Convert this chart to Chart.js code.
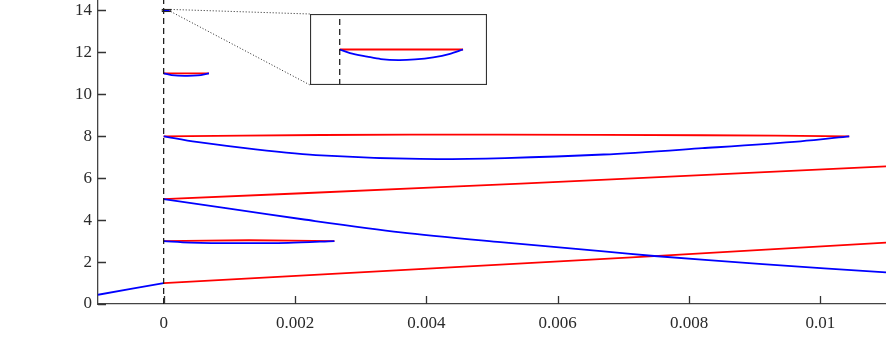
<!DOCTYPE html>
<html>
<head>
<meta charset="utf-8">
<script src="https://cdn.jsdelivr.net/npm/chart.js@4/dist/chart.umd.min.js"></script>
<style>
  html, body { margin: 0; padding: 0; background: #fff; }
  #wrap { position: relative; width: 886px; height: 354px; }
  #main { position: absolute; left: 0; top: 0; }
  #inset { position: absolute; left: 310px; top: 14px; }
</style>
</head>
<body>
<div id="wrap">
  <canvas id="main" width="886" height="354"></canvas>
  <canvas id="inset" width="177" height="71"></canvas>
</div>
<script>
// ---------- data ----------
const xTickValues = [0, 0.002, 0.004, 0.006, 0.008, 0.01];
const xTickLabels = ['0', '0.002', '0.004', '0.006', '0.008', '0.01'];
const yTickValues = [0, 2, 4, 6, 8, 10, 12, 14];
const yTickLabels = ['0', '2', '4', '6', '8', '10', '12', '14'];

// lowest branch: blue before the impulse, red after it
const preBlueX = [-0.001, 0];
const preBlueY = [0.44, 1.0];
const lowRedX = [0, 0.00361, 0.00747, 0.011];
const lowRedY = [1.0, 1.62, 2.28, 2.93];

// branch starting at 5
const midBlueX = [0, 0.001, 0.00214, 0.00361, 0.00513, 0.00666, 0.00747, 0.00912, 0.011];
const midBlueY = [5.0, 4.55, 4.03, 3.42, 2.95, 2.52, 2.29, 1.90, 1.51];
const midRedX = [0, 0.00422, 0.00666, 0.011];
const midRedY = [5.0, 5.57, 5.92, 6.56];

// loop at 8
const loop8BlueX = [0, 0.0005, 0.0014, 0.0024, 0.0039, 0.0052, 0.0067, 0.0082, 0.0097, 0.01044];
const loop8BlueY = [8.0, 7.73, 7.38, 7.09, 6.92, 6.96, 7.13, 7.43, 7.76, 8.0];
const loop8RedX = [0, 0.0024, 0.0051, 0.0082, 0.01044];
const loop8RedY = [8.0, 8.06, 8.08, 8.05, 8.0];

// loop at 3
const loop3BlueX = [0, 0.0004, 0.0011, 0.0019, 0.0026];
const loop3BlueY = [3.0, 2.93, 2.90, 2.92, 3.0];
const loop3RedX = [0, 0.0013, 0.0026];
const loop3RedY = [3.0, 3.04, 3.0];

// loop at 11
const loop11BlueX = [0, 0.00012, 0.00032, 0.00052, 0.00069];
const loop11BlueY = [11.0, 10.92, 10.88, 10.90, 11.0];
const loop11RedX = [0, 0.00069];
const loop11RedY = [11.0, 11.0];

// tiny loop at 14 (shown magnified in the inset)
const loop14BlueX = [0, 0.0000075, 0.00002, 0.00003, 0.0000428, 0.000055, 0.0000683, 0.0000805, 0.00009];
const loop14BlueY = [14.0, 13.9949, 13.9900, 13.9865, 13.9850, 13.9860, 13.9890, 13.9939, 14.0];
const loop14RedX = [0, 0.00009];
const loop14RedY = [14.0, 14.0];

// axis / zoom ranges
const xRange = [-0.001, 0.011];
const yRange = [0, 14.5];
const insetXRange = [-0.0000217, 0.0001075];
const insetYRange = [13.95, 14.05];

// ---------- helpers ----------
const zip = (xs, ys) => xs.map((x, i) => ({ x: x, y: ys[i] }));
const BLUE = '#0000ff', RED = '#ff0000';
const line = (xs, ys, color) => ({
  data: zip(xs, ys), borderColor: color, borderWidth: 1.8, pointRadius: 0,
  showLine: true, fill: false, tension: 0.3
});
const dashed = (y0, y1) => ({
  data: [{ x: 0, y: y0 }, { x: 0, y: y1 }], borderColor: '#111', borderWidth: 1.2,
  borderDash: [6, 4], pointRadius: 0, showLine: true, fill: false
});

Chart.defaults.font.family = "'Liberation Serif', 'DejaVu Serif', serif";
Chart.defaults.font.size = 17;
Chart.defaults.color = '#2a2a2a';
Chart.defaults.animation = false;

const INSET_BOX = { left: 310, top: 14, right: 487, bottom: 85 };

const mainPlugin = {
  id: 'mainDeco',
  afterDatasetsDraw(chart) {
    const ctx = chart.ctx, xs = chart.scales.x, ys = chart.scales.y;
    ctx.save();
    // inward ticks
    ctx.strokeStyle = '#333';
    ctx.lineWidth = 1.3;
    ctx.beginPath();
    xTickValues.forEach(v => {
      const px = Math.round(xs.getPixelForValue(v)) + 0.5;
      ctx.moveTo(px, ys.bottom); ctx.lineTo(px, ys.bottom - 8);
    });
    yTickValues.forEach(v => {
      const py = Math.round(ys.getPixelForValue(v)) + 0.5;
      ctx.moveTo(xs.left, py); ctx.lineTo(xs.left + 8, py);
    });
    ctx.stroke();
    // zoom rectangle
    const rl = xs.getPixelForValue(insetXRange[0]), rr = xs.getPixelForValue(insetXRange[1]);
    const rt = ys.getPixelForValue(insetYRange[1]), rb = ys.getPixelForValue(insetYRange[0]);
    ctx.strokeStyle = '#222';
    ctx.lineWidth = 1;
    ctx.strokeRect(rl, rt, rr - rl, rb - rt);
    // dotted connectors
    ctx.setLineDash([1, 2]);
    ctx.beginPath();
    ctx.moveTo(rr, rt); ctx.lineTo(INSET_BOX.left, INSET_BOX.top);
    ctx.moveTo(rr, rb); ctx.lineTo(INSET_BOX.left, INSET_BOX.bottom);
    ctx.stroke();
    ctx.restore();
  }
};

const curveSets = () => [
  dashed(yRange[0], yRange[1]),
  line(preBlueX, preBlueY, BLUE),
  line(midBlueX, midBlueY, BLUE),
  line(loop8BlueX, loop8BlueY, BLUE),
  line(loop3BlueX, loop3BlueY, BLUE),
  line(loop11BlueX, loop11BlueY, BLUE),
  line(loop14BlueX, loop14BlueY, BLUE),
  line(lowRedX, lowRedY, RED),
  line(midRedX, midRedY, RED),
  line(loop8RedX, loop8RedY, RED),
  line(loop3RedX, loop3RedY, RED),
  line(loop11RedX, loop11RedY, RED),
  line(loop14RedX, loop14RedY, RED)
];

new Chart(document.getElementById('main'), {
  type: 'scatter',
  data: { datasets: curveSets() },
  options: {
    responsive: false,
    devicePixelRatio: 1,
    layout: { padding: 0 },
    plugins: { legend: { display: false }, tooltip: { enabled: false } },
    scales: {
      x: {
        type: 'linear', min: xRange[0], max: xRange[1],
        afterBuildTicks: s => { s.ticks = xTickValues.map(v => ({ value: v })); },
        afterFit: s => { s.height = 50; s.paddingLeft = 0; s.paddingRight = 0; },
        ticks: { callback: (v, i) => xTickLabels[i], autoSkip: false, maxRotation: 0, padding: 9 },
        grid: { display: false, drawTicks: false },
        border: { display: true, color: '#444', width: 1.3 }
      },
      y: {
        type: 'linear', min: yRange[0], max: yRange[1],
        afterBuildTicks: s => { s.ticks = yTickValues.map(v => ({ value: v })); },
        afterFit: s => { s.width = 98; s.paddingTop = 0; s.paddingBottom = 0; },
        ticks: { callback: (v, i) => yTickLabels[i], autoSkip: false, padding: 6 },
        grid: { display: false, drawTicks: false },
        border: { display: true, color: '#444', width: 1.3 }
      }
    }
  },
  plugins: [mainPlugin]
});

const insetPlugin = {
  id: 'insetBox',
  afterDraw(chart) {
    const ctx = chart.ctx;
    ctx.save();
    ctx.strokeStyle = '#333';
    ctx.lineWidth = 1.2;
    ctx.strokeRect(0.5, 0.5, chart.width - 1, chart.height - 1);
    ctx.restore();
  }
};

new Chart(document.getElementById('inset'), {
  type: 'scatter',
  data: { datasets: [
    dashed(insetYRange[0], insetYRange[1]),
    line(loop14BlueX, loop14BlueY, BLUE),
    line(loop14RedX, loop14RedY, RED)
  ] },
  options: {
    responsive: false,
    devicePixelRatio: 1,
    layout: { padding: 0 },
    plugins: { legend: { display: false }, tooltip: { enabled: false } },
    scales: {
      x: { type: 'linear', min: insetXRange[0], max: insetXRange[1], display: false },
      y: { type: 'linear', min: insetYRange[0], max: insetYRange[1], display: false }
    }
  },
  plugins: [insetPlugin]
});
</script>
</body>
</html>
